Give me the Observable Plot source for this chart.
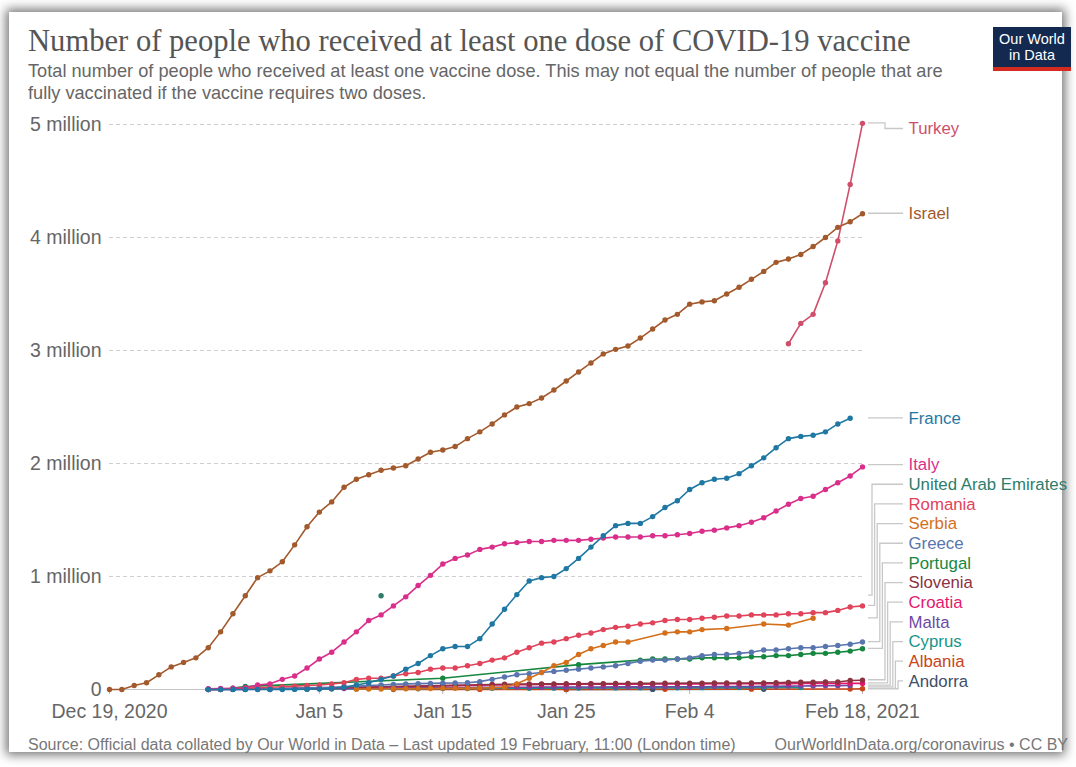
<!DOCTYPE html>
<html><head><meta charset="utf-8">
<script src="https://cdn.jsdelivr.net/npm/d3@7"></script>
<script src="https://cdn.jsdelivr.net/npm/@observablehq/plot@0.6"></script>
<style>
html,body{margin:0;padding:0;background:#fff;}
body{width:1076px;height:767px;position:relative;overflow:hidden;font-family:"Liberation Sans",Arial,sans-serif;}
#frame{position:absolute;left:9px;top:12px;width:1053px;height:740px;background:#fff;box-shadow:0 0 10px 3px rgba(0,0,0,0.55);}
#title{position:absolute;left:28px;top:26px;font-family:"Liberation Serif","Times New Roman",serif;font-size:30.6px;line-height:30px;color:#555;white-space:nowrap;}
#subtitle{position:absolute;left:28px;top:61px;font-size:18.2px;line-height:21.5px;color:#666;white-space:nowrap;}
#chart{position:absolute;left:0;top:95px;}
#source{position:absolute;left:28px;top:737px;font-size:16px;line-height:16px;color:#777;white-space:nowrap;}
#credit{position:absolute;right:8px;top:737px;font-size:16px;line-height:16px;color:#777;white-space:nowrap;}
#logo{position:absolute;left:993px;top:27px;width:78px;height:44px;background:#13294f;color:#fff;text-align:center;font-size:14.5px;line-height:16px;box-sizing:border-box;padding-top:4px;}
#logo .bar{position:absolute;left:0;bottom:0;width:100%;height:4px;background:#d42b21;}
</style></head>
<body>
<div id="frame"></div>
<div id="title">Number of people who received at least one dose of COVID-19 vaccine</div>
<div id="subtitle">Total number of people who received at least one vaccine dose. This may not equal the number of people that are<br>fully vaccinated if the vaccine requires two doses.</div>
<div id="logo">Our World<br>in Data<div class="bar"></div></div>
<div id="chart"></div>
<div id="source">Source: Official data collated by Our World in Data – Last updated 19 February, 11:00 (London time)</div>
<div id="credit">OurWorldInData.org/coronavirus • CC BY</div>
<script>
// values in millions, one per day starting at the series' start day (day 0 = 2020-12-19)
const turkey = [3.06,3.24,3.32,3.60,3.97,4.47,5.01];
const israel = [0,0,0.035,0.06,0.13,0.20,0.24,0.28,0.37,0.51,
  0.67,0.83,0.99,1.05,1.13,1.28,1.44,1.57,1.66,1.79,
  1.86,1.90,1.94,1.96,1.98,2.04,2.10,2.12,2.15,2.22,
  2.28,2.35,2.43,2.50,2.53,2.58,2.65,2.73,2.81,2.89,
  2.97,3.01,3.04,3.11,3.19,3.27,3.32,3.41,3.43,3.44,
  3.50,3.56,3.63,3.70,3.78,3.81,3.85,3.92,4.00,4.09,
  4.14,4.21];
const france = [0,0,0,0,0,0,0.0005,0.001,0.002,0.005,
  0.01,0.02,0.04,0.06,0.09,0.12,0.18,0.23,0.30,0.36,
  0.38,0.38,0.45,0.58,0.71,0.84,0.96,0.99,1.00,1.07,
  1.16,1.26,1.36,1.45,1.47,1.47,1.53,1.61,1.67,1.77,
  1.83,1.86,1.87,1.91,1.98,2.05,2.14,2.22,2.24,2.25,
  2.28,2.35,2.40];
const italy = [0.007,0.009,0.011,0.015,0.04,0.05,0.09,0.12,0.19,0.27,
  0.33,0.42,0.51,0.61,0.66,0.74,0.82,0.92,1.01,1.11,
  1.16,1.19,1.24,1.26,1.29,1.30,1.31,1.31,1.32,1.32,
  1.32,1.33,1.34,1.35,1.35,1.35,1.36,1.36,1.37,1.38,
  1.40,1.41,1.43,1.45,1.48,1.52,1.58,1.64,1.69,1.71,
  1.77,1.83,1.89,1.97];
const uae = [0.83];
const romania = [0.002,0.005,0.008,0.012,0.016,0.02,0.025,0.03,0.035,0.04,
  0.05,0.06,0.09,0.10,0.10,0.12,0.14,0.15,0.18,0.19,
  0.19,0.21,0.23,0.26,0.28,0.33,0.37,0.41,0.42,0.45,
  0.48,0.50,0.53,0.55,0.56,0.58,0.59,0.61,0.62,0.62,
  0.63,0.64,0.65,0.65,0.66,0.66,0.66,0.67,0.67,0.68,
  0.68,0.70,0.73,0.74];
const serbia = [0.003,0.004,0.005,0.006,0.007,0.008,0.009,0.010,0.011,0.012,
  0.013,0.016,0.02,0.05,0.10,0.15,0.21,0.24,0.31,0.36,
  0.39,0.42,0.42,null,null,0.50,0.51,0.51,0.53,null,
  0.54,null,null,0.58,null,0.57,null,0.63];
const greece = [0.001,0.002,0.003,0.004,0.005,0.007,0.009,0.011,0.014,0.017,
  0.020,0.025,0.030,0.035,0.040,0.045,0.050,0.052,0.054,0.056,
  0.058,0.060,0.070,0.090,0.110,0.130,0.140,0.150,0.160,0.170,
  0.180,0.190,0.200,0.210,0.230,0.250,0.260,0.260,0.270,0.280,
  0.300,0.310,0.310,0.320,0.330,0.350,0.350,0.360,0.370,0.370,
  0.380,0.390,0.400,0.420];
const portugal = [0.012,0.027,null,null,null,null,null,null,null,null,
  null,null,null,null,null,null,null,0.10,null,null,
  null,null,null,null,null,null,null,null,0.22,null,
  null,null,null,0.26,0.27,0.27,0.27,0.27,0.28,0.28,
  0.28,0.28,0.29,0.29,0.30,0.30,0.31,0.32,0.32,0.33,
  0.34,0.36];
const slovenia = [0.001,0.002,0.003,0.004,0.005,0.006,0.008,0.010,0.012,0.014,
  0.016,0.018,0.020,0.022,0.024,0.026,0.028,0.030,0.032,0.035,
  0.038,0.040,0.042,0.044,0.046,0.048,0.049,0.050,0.050,0.051,
  0.051,0.052,0.052,0.053,0.053,0.054,0.054,0.055,0.055,0.056,
  0.056,0.057,0.057,0.058,0.058,0.059,0.060,0.063,0.064,0.065,
  0.066,0.067,0.080,0.082];
const croatia = [0.0005,0.001,0.002,0.003,0.004,0.005,0.006,0.008,0.010,0.012,
  0.014,0.016,0.018,0.020,0.022,0.024,0.026,0.028,0.030,0.032,
  0.034,0.036,0.038,0.040,0.041,0.042,0.043,0.044,0.045,0.045,
  0.046,0.046,0.047,0.047,0.048,0.048,0.049,0.049,0.050,0.050,
  0.050,0.051,0.051,0.051,0.052,0.052,0.052,0.052,0.053,0.053,
  0.053,0.053,0.054,0.054];
const malta = [0.0002,0.0005,0.001,0.0015,0.002,0.003,0.004,0.005,0.006,0.007,
  0.008,0.009,0.010,0.011,0.012,0.013,0.014,0.015,0.016,0.017,
  0.018,0.018,0.019,0.019,0.020,0.020,0.020,0.021,0.021,0.021,
  0.022,0.022,0.022,0.023,0.023,0.023,0.024,0.024,0.024,0.025,
  0.025,0.026,0.026,0.027,0.027,0.028,0.029,0.030,0.031,0.032,
  0.033,0.034,0.035];
const cyprus = [0.0012,null,null,0.0018,null,0.0025,null,null,0.003,null,
  0.0041,null,0.0052,null,null,0.0064,null,0.0071,null,0.0083,
  null,0.0090,null,0.0102,null,null,0.0115,null,0.0121,null,
  0.0133,null,null,0.0142,null,0.0150,null,null,0.0158,null,
  0.0163,null,null,0.0170,null,0.0176,null,null,0.0182];
const albania = [0.0004,null,null,null,null,null,null,0.0007,null,null,
  null,null,null,null,0.0011,null,null,null,null,null,
  null,null,0.002,null,null,null,null,null,null,0.003,
  null,null,null,null,null,null,null,0.005,0.006];
const andorra = [0.0006,null,null,null,null,null,null,0.0011,null,null,
  null,null,null,null,null,null,0.0024];

const countries = ["Turkey","Israel","France","Italy","United Arab Emirates","Romania","Serbia","Greece","Portugal","Slovenia","Croatia","Malta","Cyprus","Albania","Andorra"];
const seriesValues = [turkey,israel,france,italy,uae,romania,serbia,greece,portugal,slovenia,croatia,malta,cyprus,albania,andorra];
const seriesStart = [55,0,8,8,22,8,20,8,10,8,8,8,8,23,37];
const colors = ["#cf4f6b","#a2592c","#1f78a3","#d92f8b","#2e7d6b","#e0435a","#d4701c","#5975ae","#15873f","#8c3240","#e2186f","#6e4aa3","#17948a","#c94418","#3d4f69"];

const xTickDates = ["2020-12-19","2021-01-05","2021-01-15","2021-01-25","2021-02-04","2021-02-18"];
const xTickLabels = ["Dec 19, 2020","Jan 5","Jan 15","Jan 25","Feb 4","Feb 18, 2021"];
const yTicks = [0,1,2,3,4,5];
const yTickLabels = ["0","1 million","2 million","3 million","4 million","5 million"];

const day0 = Date.UTC(2020,11,19);
const dayMs = 864e5;
const rows = [];
countries.forEach((c,k) => {
  seriesValues[k].forEach((v,i) => {
    if (v != null) rows.push({country:c, date:new Date(day0 + (seriesStart[k]+i)*dayMs), value:v});
  });
});
const xTicks = xTickDates.map(s => new Date(s + "T00:00:00Z"));
const endDate = xTicks[xTicks.length-1];

// label placement (in data units)
const gap = 0.174, minPos = 0.072, maxPos = 4.96;
const labels = countries.map((c,k) => {
  const vals = seriesValues[k].filter(v => v != null);
  return {country:c, value: vals[vals.length-1], date: endDate};
}).sort((a,b) => b.value - a.value);
labels.forEach((l,i) => {
  l.pos = Math.min(l.value, maxPos, i ? labels[i-1].pos - gap : Infinity);
});
for (let i = labels.length-1; i >= 0; i--) {
  labels[i].pos = Math.max(labels[i].pos, minPos, i < labels.length-1 ? labels[i+1].pos + gap : -Infinity);
}

const drawOrder = countries.slice().reverse();
const ordered = drawOrder.flatMap(c => rows.filter(r => r.country === c));

const chart = Plot.plot({
  width: 1076, height: 640,
  marginLeft: 109, marginRight: 214, marginTop: 29, marginBottom: 46,
  style: {fontFamily: "'Liberation Sans', Arial, sans-serif", fontSize: "19.5px", color: "#666", background: "transparent", overflow: "visible"},
  x: {type: "utc", domain: [xTicks[0], endDate]},
  y: {domain: [0, 5]},
  color: {domain: countries, range: colors},
  marks: [
    Plot.gridY(yTicks.slice(1), {stroke: "#cfcfcf", strokeOpacity: 1, strokeDasharray: "4,3"}),
    Plot.ruleY([0], {stroke: "#c4c4c4", strokeWidth: 1.2}),
    Plot.axisY(yTicks, {tickSize: 0, tickPadding: 8, label: null, fill: "#666", fontSize: 19.5,
      tickFormat: d => yTickLabels[yTicks.indexOf(d)]}),
    Plot.axisX(xTicks, {tickSize: 5, tickPadding: 10, label: null, stroke: "#bbb", fill: "#666", fontSize: 19.5,
      tickFormat: d => xTickLabels[xTicks.findIndex(t => +t === +d)]}),
    Plot.line(ordered, {x: "date", y: "value", z: "country", stroke: "country", strokeWidth: 1.6}),
    Plot.dot(ordered, {x: "date", y: "value", fill: "country", r: 2.7}),
    Plot.text(labels, {x: "date", y: "pos", text: "country", fill: "country", dx: 46, textAnchor: "start", fontSize: 16.8})
  ]
});
document.getElementById("chart").appendChild(chart);

// connectors from series ends to labels, positioned with Plot's own scales
const sx = chart.scale("x"), sy = chart.scale("y");
const xEnd = sx.apply(endDate);
const svg = d3.select(chart);
let upIdx = 0;
labels.forEach(l => {
  const y0 = sy.apply(l.value), y1 = sy.apply(l.pos);
  let pts;
  if (Math.abs(y1 - y0) < 3) pts = [[xEnd+6, y1], [xEnd+41, y1]];
  else {
    const ex = y1 > y0 ? xEnd + 23 : xEnd + 10 + (upIdx++) * 2.6;
    pts = [[xEnd+6, y0], [ex, y0], [ex, y1], [xEnd+41, y1]];
  }
  svg.insert("path", ":first-child").attr("d", d3.line()(pts)).attr("fill", "none")
    .attr("stroke", "#c8c8c8").attr("stroke-width", 1.3);
});
</script>
</body></html>
